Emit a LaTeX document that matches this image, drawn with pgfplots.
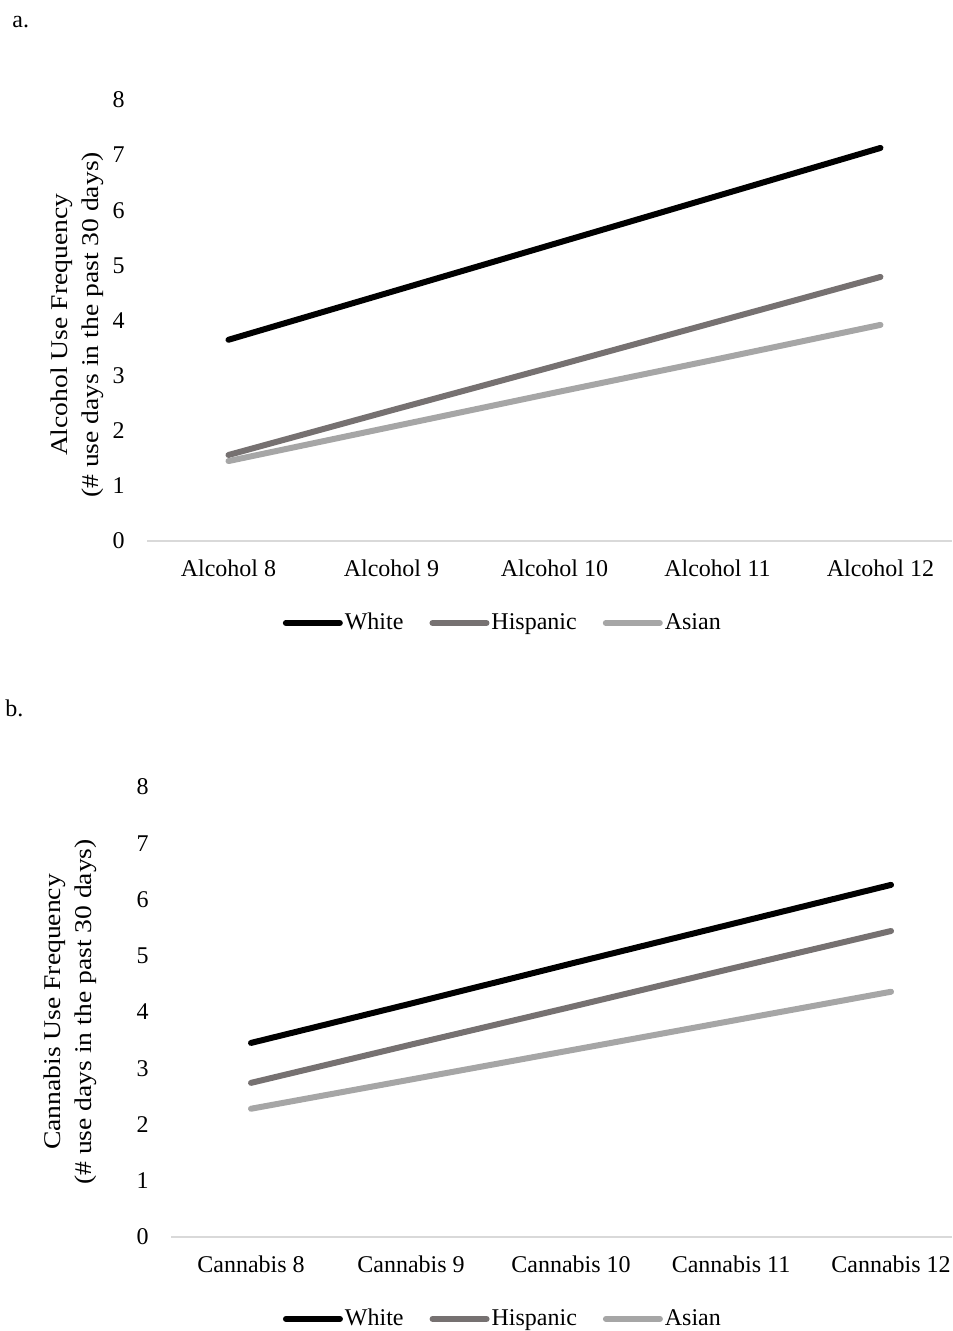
\documentclass[border=0pt,12pt]{standalone}
\usepackage{fontspec}
\setmainfont{Liberation Serif}
\newfontfamily\stretchfont[FakeStretch=1.15]{Liberation Serif}
\usepackage{pgfplots}
\pgfplotsset{compat=1.18}
\definecolor{cWhite}{RGB}{0,0,0}
\definecolor{cHisp}{RGB}{118,113,113}
\definecolor{cAsian}{RGB}{166,166,166}
\definecolor{cAxis}{RGB}{217,217,217}
\pgfplotsset{
  panel/.style={
    scale only axis,
    clip=false,
    axis line style={draw=none},
    major tick length=0pt,
    ymin=0, ymax=8, ytick={0,1,...,8},
    xtick={0,1,2,3,4},
    /pgf/number format/assume math mode=true,
    tick label style={font=\fontsize{12}{14}\selectfont},
    yticklabel style={xshift=-7pt},
    xticklabel style={yshift=-5pt},
    ylabel style={rotate=0, align=center, font=\stretchfont\fontsize{12}{15.5}\selectfont, anchor=center},
    legend columns=3,
    legend style={draw=none, fill=none, font=\fontsize{12}{14}\selectfont, anchor=center,
      inner sep=0pt,
      nodes={inner sep=1pt},
      /tikz/column 2/.style={column sep=12pt},
      /tikz/column 4/.style={column sep=12pt}},
    legend image code/.code={\draw[##1] (0pt,0pt) -- (27pt,0pt);},
    every axis plot/.append style={line width=3pt, line cap=round, mark=none},
  }
}
\begin{document}
\begin{tikzpicture}
\useasboundingbox (0pt,0pt) rectangle (476pt,665.5pt);
\node[anchor=west, font=\fontsize{12}{14}\selectfont] at (2pt,654.5pt) {a.};
\node[anchor=west, font=\fontsize{12}{14}\selectfont] at (-1.5pt,311.5pt) {b.};
% panel a
\begin{axis}[panel,
  at={(73.5pt,395pt)}, anchor=south west,
  width=402.5pt, height=220.5pt,
  xmin=-0.5, xmax=4.439,
  xticklabels={Alcohol 8,Alcohol 9,Alcohol 10,Alcohol 11,Alcohol 12},
  ylabel={Alcohol Use Frequency\\(\# use days in the past 30 days)},
  ylabel style={at={(axis description cs:-0.087,0.49)}},
  legend style={at={(axis description cs:0.442,-0.186)}},
]
\draw[cAxis, line width=1pt] (axis cs:-0.5,0) -- (axis cs:4.439,0);
\addplot[cWhite] coordinates {(0,3.65) (1,4.52) (2,5.39) (3,6.26) (4,7.13)};
\addplot[cHisp] coordinates {(0,1.56) (1,2.37) (2,3.17) (3,3.98) (4,4.79)};
\addplot[cAsian] coordinates {(0,1.45) (1,2.07) (2,2.69) (3,3.30) (4,3.92)};
\legend{White,Hispanic,Asian}
\end{axis}
% panel b
\begin{axis}[panel,
  at={(85.5pt,47pt)}, anchor=south west,
  width=390.5pt, height=225pt,
  xmin=-0.5, xmax=4.381,
  xticklabels={Cannabis 8,Cannabis 9,Cannabis 10,Cannabis 11,Cannabis 12},
  ylabel={Cannabis Use Frequency\\(\# use days in the past 30 days)},
  ylabel style={at={(axis description cs:-0.129,0.5)}},
  legend style={at={(axis description cs:0.425,-0.182)}},
]
\draw[cAxis, line width=1pt] (axis cs:-0.5,0) -- (axis cs:4.381,0);
\addplot[cWhite] coordinates {(0,3.45) (1,4.15) (2,4.86) (3,5.56) (4,6.26)};
\addplot[cHisp] coordinates {(0,2.74) (1,3.42) (2,4.09) (3,4.77) (4,5.44)};
\addplot[cAsian] coordinates {(0,2.28) (1,2.80) (2,3.32) (3,3.84) (4,4.36)};
\legend{White,Hispanic,Asian}
\end{axis}
\end{tikzpicture}
\end{document}
